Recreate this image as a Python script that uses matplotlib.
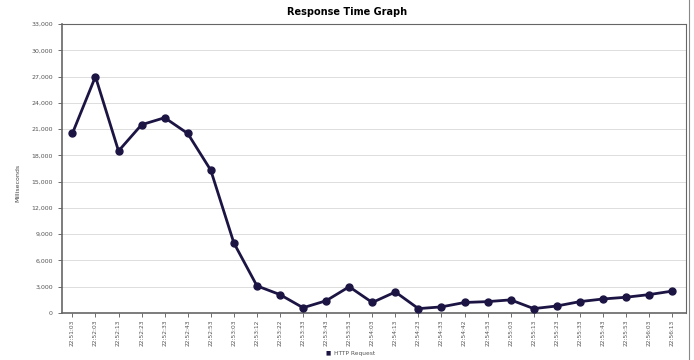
import matplotlib
matplotlib.use("Agg")
import matplotlib.pyplot as plt
from matplotlib.lines import Line2D
from matplotlib.ticker import FuncFormatter

times = ["22:51:03", "22:52:03", "22:52:13", "22:52:23", "22:52:33", "22:52:43",
         "22:52:53", "22:53:03", "22:53:12", "22:53:22", "22:53:33", "22:53:43",
         "22:53:53", "22:54:03", "22:54:13", "22:54:23", "22:54:33", "22:54:42",
         "22:54:53", "22:55:03", "22:55:13", "22:55:23", "22:55:33", "22:55:43",
         "22:55:53", "22:56:03", "22:56:13"]
response_ms = [20500, 27000, 18500, 21500, 22300, 20500, 16300, 8000, 3100,
               2100, 600, 1400, 3000, 1200, 2400, 500, 700, 1200, 1300, 1500,
               500, 800, 1300, 1600, 1800, 2100, 2500]
y_ticks = list(range(0, 33001, 3000))

fig = plt.figure(figsize=(6.94, 3.6), dpi=100)
ax = fig.add_axes([62 / 694, 1 - 313 / 360, 624 / 694, 289 / 360])

x = list(range(len(times)))
ax.plot(x, response_ms, color="#1c1544", linewidth=2, marker="o",
        markersize=5, zorder=3)

ax.set_xlim(-0.45, 26.6)
ax.set_ylim(0, 33000)
ax.set_yticks(y_ticks)
ax.yaxis.set_major_formatter(FuncFormatter(lambda v, p: f"{int(v):,}"))
ax.set_xticks(x)
ax.set_xticklabels(times, rotation=90, fontsize=4.2, color="#888888")
ax.tick_params(axis="y", labelsize=4.5, colors="#555555", length=3, width=0.6)
ax.tick_params(axis="x", length=3, width=0.6, colors="#555555", pad=2)
ax.grid(axis="y", color="#dddddd", linewidth=0.7)
ax.set_axisbelow(True)
for s in ax.spines.values():
    s.set_color("#666666")
    s.set_linewidth(0.8)
ax.spines["left"].set_linewidth(1.2)
ax.spines["bottom"].set_linewidth(1.2)

ax.set_ylabel("Milliseconds", fontsize=4.5, color="#444444")
ax.yaxis.set_label_coords(-0.067, 0.45)
fig.text(0.5, 1 - 12 / 360, "Response Time Graph", ha="center", va="center",
         fontsize=7, fontweight="bold")

# legend below the axis labels
fig.text(328 / 694, 1 - 353 / 360, "\u25a0", ha="center", va="center",
         fontsize=4, color="#1c1544")
fig.text(334 / 694, 1 - 353 / 360, "HTTP Request", ha="left", va="center",
         fontsize=4.2, color="#555555")

fig.add_artist(Line2D([689 / 694, 689 / 694], [0, 1], color="#888888",
                      linewidth=0.8, transform=fig.transFigure))

fig.savefig("out.png", dpi=100)
